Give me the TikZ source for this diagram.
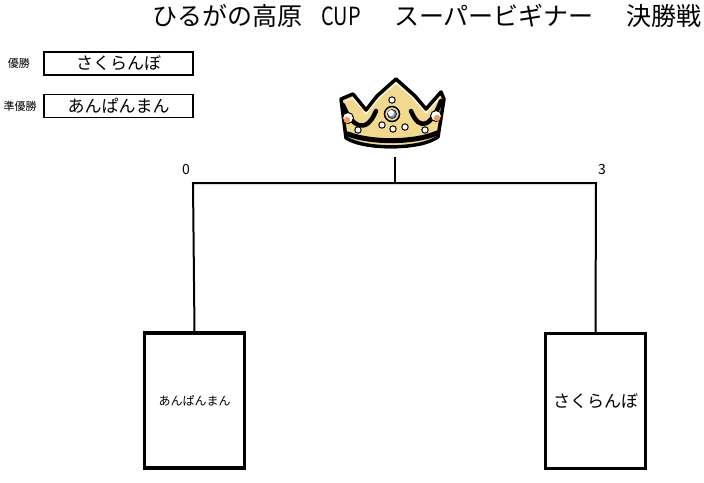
\documentclass[tikz,border=0pt]{standalone}
\usepackage{fontspec}
\setmainfont{Noto Sans CJK JP}
\usepackage{tikz}
\usetikzlibrary{calc}
\definecolor{gold}{HTML}{F3D98E}
\definecolor{jewel}{HTML}{F0A050}
\definecolor{sapph}{HTML}{6E90D8}
\tikzset{t/.style={font=\fontsize{25}{25}\selectfont, inner sep=0pt}}
\tikzset{l/.style={font=\fontsize{17}{17}\selectfont, inner sep=0pt}}
\tikzset{m/.style={font=\fontsize{11}{11}\selectfont, inner sep=0pt}}
\tikzset{n/.style={font=\fontsize{14}{14}\selectfont, inner sep=0pt}}
\tikzset{
namebox/.style={draw, line width=1.3pt, minimum width=149pt, minimum height=23pt, inner sep=0pt, l},
seed/.style={draw, line width=3.5pt, minimum width=100pt, minimum height=135pt, inner sep=0pt},
pearl/.style={fill=white, draw=black, line width=1pt}
}

\begin{document}
\begin{tikzpicture}[x=1pt, y=-1pt]
    \useasboundingbox (0,0) rectangle (704,482);
    % title
    \node[t, anchor=west] (t1) at (152,16) {ひるがの高原};
    \node[t, anchor=west] (t2) at (321,16) {\scalebox{0.8}[1]{CUP}};
    \node[t, anchor=west] (t3) at (394,16) {スーパービギナー};
    \node[t, anchor=west] (t4) at (626,16) {決勝戦};
    % results
    \node[m] (w) at (19,63) {優勝};
    \node[namebox] (win) at (118.5,63.5) {さくらんぼ};
    \node[m] (r) at (20,106) {準優勝};
    \node[namebox] (run) at (118.5,106) {あんぱんまん};
    % crown
    \begin{scope}[line join=round, line cap=round]
    \filldraw[fill=gold, draw=black, line width=3.5pt] (341,99) -- (353,94) -- (366,110) -- (377,96) -- (396,79) -- (415,96) -- (426,109) -- (441,92) -- (444,99) -- (438,137) .. controls (420,150) and (365,150) .. (346,138) -- cycle;
    \draw[white, line width=0.9pt] (345,101) -- (353,98) -- (366,114) -- (379,98) -- (396,83) -- (413,98) -- (426,113) -- (440,97);
    \draw[line width=4.5pt] (343,105) .. controls (352,127) and (366,135) .. (376,111);
    \draw[line width=4.5pt] (441,101) .. controls (432,125) and (420,133) .. (411,111);
    \draw[line width=5pt] (348,134) .. controls (370,143) and (415,143) .. (437,133);
    \draw[white, line width=1pt] (346,142) .. controls (365,152) and (420,152) .. (436,141);
    \end{scope}
    \filldraw[pearl] (348,118) circle (5.5pt);
    \fill[jewel] (347,120) circle (3.2pt);
    \filldraw[pearl] (436,116) circle (5.5pt);
    \fill[jewel] (437,118) circle (3.2pt);
    \filldraw[fill=gold, draw=black, line width=1.5pt] (392,114) circle (7.5pt);
    \filldraw[fill=sapph, draw=black, line width=0.6pt] (392,114) circle (4.5pt);
    \fill[white] (391,113) circle (3pt);
    \foreach \px/\py in {392/100, 358/130, 382/125, 393/129, 405/127, 425/130}
        \filldraw[pearl] (\px,\py) circle (3.2pt);
    % bracket
    \coordinate (cr) at (395,157);
    \coordinate (cm) at (395,183);
    \coordinate (lt) at (193,183);
    \coordinate (rt) at (596,183);
    \node[seed, font=\fontsize{12}{12}\selectfont] (lb) at (194.5,400.5) {あんぱんまん};
    \node[seed, l] (rb) at (595.5,401) {さくらんぼ};
    \draw[line width=2pt] (lb.north) -- (lt) -- (rt) -- (rb.north);
    \draw[line width=2pt] (cr) -- (cm);
    \node[n] (s1) at (186,170) {0};
    \node[n] (s2) at (602,170) {3};
\end{tikzpicture}
\end{document}
